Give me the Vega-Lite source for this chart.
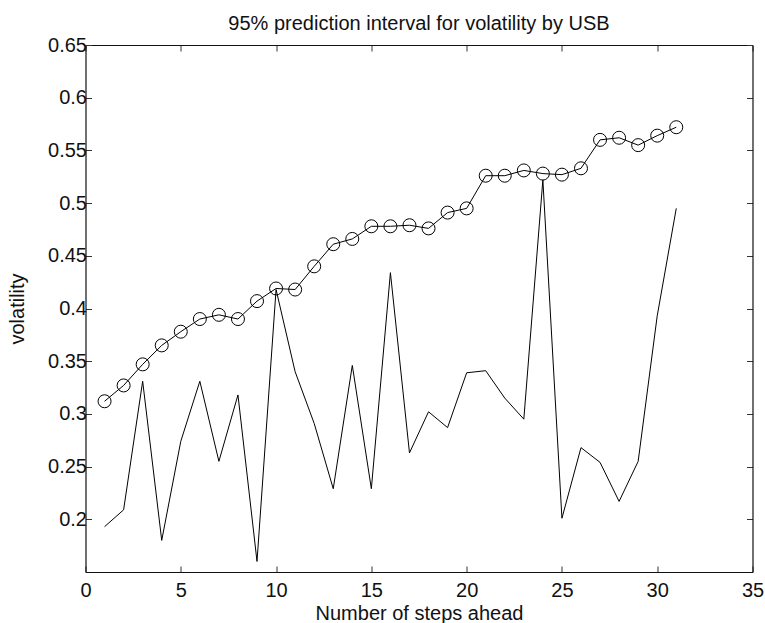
{
  "$schema": "https://vega.github.io/schema/vega-lite/v6.json",
  "width": 667,
  "height": 527,
  "autosize": {"type": "none"},
  "padding": {"left": 85.5, "top": 45, "right": 12.5, "bottom": 51},
  "background": "white",
  "config": {
    "view": {"stroke": null},
    "font": "Liberation Sans",
    "axis": {
      "grid": false,
      "domainColor": "#111111",
      "domainWidth": 1.2,
      "tickColor": "#333333",
      "tickSize": -6,
      "tickWidth": 1,
      "labelFont": "Liberation Sans",
      "labelFontSize": 20,
      "labelColor": "#111111",
      "titleFont": "Liberation Sans",
      "titleFontSize": 20,
      "titleFontWeight": "normal",
      "titleColor": "#111111"
    }
  },
  "title": {
    "text": "95% prediction interval for volatility by USB",
    "font": "Liberation Sans",
    "fontSize": 20,
    "fontWeight": "normal",
    "color": "#111111",
    "anchor": "middle",
    "frame": "group",
    "baseline": "alphabetic",
    "offset": 16,
    "dy": 31
  },
  "data": {
    "values": [
      {"step": 1, "upper": 0.312, "lower": 0.193},
      {"step": 2, "upper": 0.327, "lower": 0.209},
      {"step": 3, "upper": 0.347, "lower": 0.331},
      {"step": 4, "upper": 0.365, "lower": 0.180},
      {"step": 5, "upper": 0.378, "lower": 0.274},
      {"step": 6, "upper": 0.390, "lower": 0.331},
      {"step": 7, "upper": 0.394, "lower": 0.255},
      {"step": 8, "upper": 0.390, "lower": 0.318},
      {"step": 9, "upper": 0.407, "lower": 0.160},
      {"step": 10, "upper": 0.419, "lower": 0.418},
      {"step": 11, "upper": 0.418, "lower": 0.340},
      {"step": 12, "upper": 0.440, "lower": 0.291},
      {"step": 13, "upper": 0.461, "lower": 0.229},
      {"step": 14, "upper": 0.466, "lower": 0.346},
      {"step": 15, "upper": 0.478, "lower": 0.229},
      {"step": 16, "upper": 0.478, "lower": 0.434},
      {"step": 17, "upper": 0.479, "lower": 0.263},
      {"step": 18, "upper": 0.476, "lower": 0.302},
      {"step": 19, "upper": 0.491, "lower": 0.287},
      {"step": 20, "upper": 0.495, "lower": 0.339},
      {"step": 21, "upper": 0.526, "lower": 0.341},
      {"step": 22, "upper": 0.526, "lower": 0.315},
      {"step": 23, "upper": 0.531, "lower": 0.295},
      {"step": 24, "upper": 0.528, "lower": 0.522},
      {"step": 25, "upper": 0.527, "lower": 0.201},
      {"step": 26, "upper": 0.533, "lower": 0.268},
      {"step": 27, "upper": 0.560, "lower": 0.254},
      {"step": 28, "upper": 0.562, "lower": 0.217},
      {"step": 29, "upper": 0.555, "lower": 0.255},
      {"step": 30, "upper": 0.564, "lower": 0.393},
      {"step": 31, "upper": 0.572, "lower": 0.495}
    ]
  },
  "resolve": {"axis": {"x": "independent", "y": "independent"}},
  "layer": [
    {
      "mark": {"type": "line", "color": "black", "strokeWidth": 1},
      "encoding": {
        "x": {
          "field": "step", "type": "quantitative",
          "scale": {"domain": [0, 35], "nice": false, "zero": false},
          "axis": {"orient": "bottom", "values": [0, 5, 10, 15, 20, 25, 30, 35], "title": "Number of steps ahead", "labelPadding": 14, "titleY": 47, "titleBaseline": "alphabetic", "labelFlush": false}
        },
        "y": {
          "field": "lower", "type": "quantitative",
          "scale": {"domain": [0.15, 0.65], "nice": false, "zero": false},
          "axis": {"orient": "left", "values": [0.2, 0.25, 0.3, 0.35, 0.4, 0.45, 0.5, 0.55, 0.6, 0.65], "format": "~g", "title": "volatility", "labelPadding": 5, "titleX": -62, "titleBaseline": "alphabetic", "labelFlush": false}
        }
      }
    },
    {
      "mark": {"type": "line", "color": "black", "strokeWidth": 1},
      "encoding": {
        "x": {
          "field": "step", "type": "quantitative",
          "axis": {"orient": "top", "values": [0, 5, 10, 15, 20, 25, 30, 35], "labels": false, "title": null}
        },
        "y": {
          "field": "upper", "type": "quantitative",
          "axis": {"orient": "right", "values": [0.2, 0.25, 0.3, 0.35, 0.4, 0.45, 0.5, 0.55, 0.6, 0.65], "labels": false, "title": null}
        }
      }
    },
    {
      "mark": {"type": "point", "shape": "circle", "filled": false, "color": "black", "strokeWidth": 1, "size": 169, "opacity": 1},
      "encoding": {
        "x": {"field": "step", "type": "quantitative", "axis": null},
        "y": {"field": "upper", "type": "quantitative", "axis": null}
      }
    }
  ]
}
